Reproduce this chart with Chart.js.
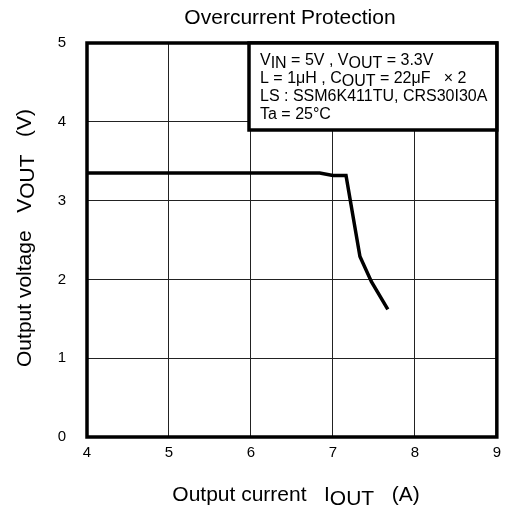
<!DOCTYPE html>
<html>
<head>
<meta charset="utf-8">
<script src="https://cdn.jsdelivr.net/npm/chart.js@4"></script>
<style>
  html, body { margin: 0; padding: 0; background: #fff; }
  #wrap { width: 508px; height: 511px; }
</style>
</head>
<body>
<div id="wrap"><canvas id="ocp" width="508" height="511"></canvas></div>
<script>
// Output voltage vs. output current during overcurrent limiting
const currentA = [4.0, 6.84, 7.0, 7.16, 7.33, 7.47, 7.67];
const voltageV = [3.35, 3.35, 3.32, 3.32, 2.29, 1.97, 1.62];

const xTicks = [4, 5, 6, 7, 8, 9];
const yTicks = [0, 1, 2, 3, 4, 5];

const FONT = 'Liberation Sans, Arial, sans-serif';

// conditions box text, each line split into normal / subscript runs
const noteLines = [
    [['V'], ['IN', true], [' = 5V , V'], ['OUT', true], [' = 3.3V']],
    [['L = 1\u03BCH , C'], ['OUT', true], [' = 22\u03BCF   \u00D7 2']],
    [['LS : SSM6K411TU, CRS30I30A']],
    [['Ta = 25\u00B0C']]
];

function drawRuns(ctx, runs, x, y, size, drop) {
    ctx.textBaseline = 'alphabetic';
    ctx.textAlign = 'left';
    ctx.font = size + 'px ' + FONT;
    runs.forEach(r => {
        ctx.fillText(r[0], x, y + (r[1] === true ? drop : 0));
        x += ctx.measureText(r[0]).width;
    });
}

function runsWidth(ctx, runs, size) {
    ctx.font = size + 'px ' + FONT;
    return runs.reduce((w, r) => w + ctx.measureText(r[0]).width, 0);
}

const decorations = {
    id: 'decorations',
    afterDraw(chart) {
        const ctx = chart.ctx;
        const a = chart.chartArea;
        ctx.save();

        // heavy frame around the plot
        ctx.strokeStyle = '#000';
        ctx.lineWidth = 3.5;
        ctx.strokeRect(a.left, a.top, a.right - a.left, a.bottom - a.top);

        // conditions box
        const bx = 249, by = a.top, bw = a.right - bx, bh = 87;
        ctx.fillStyle = '#fff';
        ctx.fillRect(bx, by, bw, bh);
        ctx.strokeRect(bx, by, bw, bh);
        ctx.fillStyle = '#000';
        noteLines.forEach((ln, i) => drawRuns(ctx, ln, 260, 65 + i * 18, 16, 3));

        // chart title
        ctx.font = '21px ' + FONT;
        ctx.textAlign = 'center';
        ctx.textBaseline = 'alphabetic';
        ctx.fillText('Overcurrent Protection', 290, 24);

        // x axis title
        const xt = [['Output current   I'], ['OUT', true], ['   (A)']];
        const xw = runsWidth(ctx, xt, 21);
        drawRuns(ctx, xt, 296 - xw / 2, 501, 21, 4);

        // y axis title, rotated
        const yt = [['Output voltage   V'], ['OUT', true], ['   (V)']];
        ctx.save();
        ctx.translate(31, 238);
        ctx.rotate(-Math.PI / 2);
        const yw = runsWidth(ctx, yt, 21);
        drawRuns(ctx, yt, -yw / 2, 0, 21, 3);
        ctx.restore();

        ctx.restore();
    }
};

new Chart(document.getElementById('ocp'), {
    type: 'line',
    data: {
        datasets: [{
            data: currentA.map((x, i) => ({ x: x, y: voltageV[i] })),
            borderColor: '#000',
            borderWidth: 3.5,
            pointRadius: 0,
            tension: 0,
            fill: false
        }]
    },
    options: {
        responsive: false,
        animation: false,
        devicePixelRatio: 1,
        layout: { padding: { top: 43, right: 11, left: 0, bottom: 0 } },
        plugins: {
            legend: { display: false },
            tooltip: { enabled: false }
        },
        scales: {
            x: {
                type: 'linear',
                min: 4,
                max: 9,
                afterBuildTicks: s => { s.ticks = xTicks.map(v => ({ value: v })); },
                afterFit: s => { s.height = 74; },
                grid: { color: '#222', lineWidth: 1, drawTicks: false },
                border: { display: false },
                ticks: { color: '#000', padding: 7, font: { family: FONT, size: 15 } }
            },
            y: {
                type: 'linear',
                min: 0,
                max: 5,
                afterBuildTicks: s => { s.ticks = yTicks.map(v => ({ value: v })); },
                afterFit: s => { s.width = 87; },
                grid: { color: '#222', lineWidth: 1, drawTicks: false },
                border: { display: false },
                ticks: { color: '#000', padding: 21, font: { family: FONT, size: 15 } }
            }
        }
    },
    plugins: [decorations]
});
</script>
</body>
</html>
